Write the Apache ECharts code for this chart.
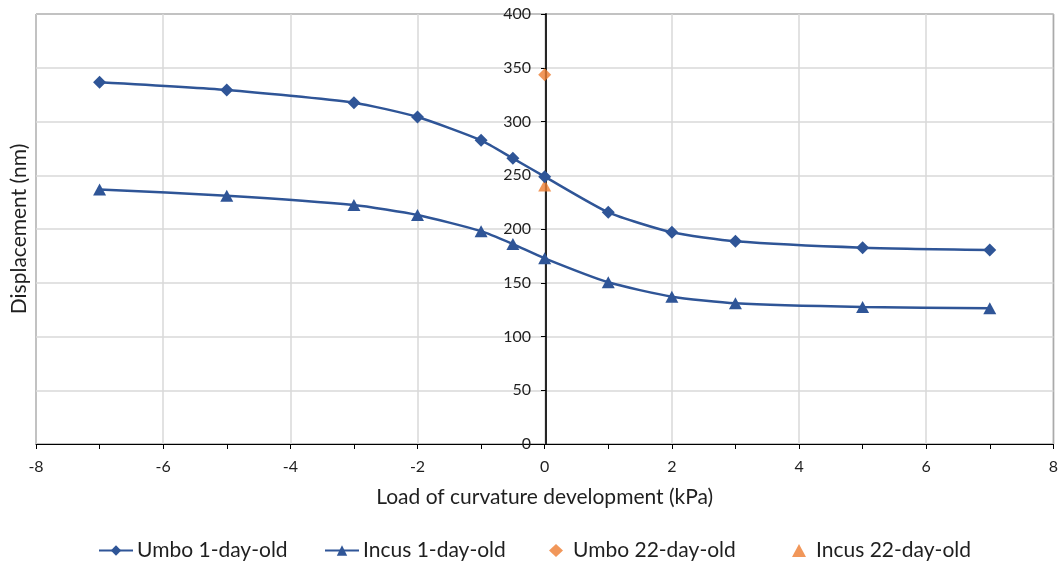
<!DOCTYPE html>
<html>
<head>
<meta charset="utf-8">
<script src="https://cdn.jsdelivr.net/npm/echarts@6/dist/echarts.min.js"></script>
<style>
  html, body { margin: 0; padding: 0; background: #fff; }
  #chart { width: 1061px; height: 567px; }
</style>
</head>
<body>
<div id="chart"></div>
<script>
// Load of curvature development (kPa)
const loads = [-7, -5, -3, -2, -1, -0.5, 0, 1, 2, 3, 5, 7];
// Displacement (nm), 1-day-old ear
const umbo1 = [336.5, 329.3, 317.5, 304.2, 282.5, 265.7, 248.7, 215.5, 196.9, 188.5, 182.6, 180.5];
const incus1 = [236.7, 231.0, 222.3, 213.0, 198.0, 186.0, 172.7, 150.4, 137.0, 130.9, 127.4, 126.2];
// Displacement (nm), 22-day-old ear (unloaded only)
const umbo22Load = [0];
const umbo22 = [343.6];
const incus22Load = [0];
const incus22 = [240.5];

const seriesNames = ['Umbo 1-day-old', 'Incus 1-day-old', 'Umbo 22-day-old', 'Incus 22-day-old'];

const BLUE = '#2F5597';
const ORANGE = '#ED7D31';
const TEXT = '#1f1f1f';
const FONT = 'Lato, "Open Sans", sans-serif';

const GRID = { left: 36, right: 5, top: 14, bottom: 123 };
const plotWidth = 1061 - GRID.left - GRID.right;

const pairs = (xs, ys) => xs.map((x, i) => [x, ys[i]]);

const chart = echarts.init(document.getElementById('chart'));

const legendBase = {
  top: 540,
  padding: 0,
  itemWidth: 34,
  itemHeight: 13,
  itemGap: 4,
  textStyle: { fontFamily: FONT, fontSize: 21, color: TEXT, padding: [0, 0, 0, -1] }
};
const markerLegend = {
  itemWidth: 14,
  textStyle: { fontFamily: FONT, fontSize: 21, color: TEXT, padding: [0, 0, 0, 5] }
};

chart.setOption({
  animation: false,
  backgroundColor: '#fff',
  grid: Object.assign({ show: true, borderColor: '#000', borderWidth: 1 }, GRID),
  xAxis: {
    type: 'value', min: -8, max: 8, interval: 2,
    name: 'Load of curvature development (kPa)',
    nameLocation: 'middle', nameGap: 43,
    nameTextStyle: { fontFamily: FONT, fontSize: 21, color: TEXT },
    axisLine: { onZero: false, lineStyle: { color: '#000', width: 1 } },
    axisTick: { show: true, length: 5, lineStyle: { color: '#000' } },
    minorTick: { show: true, splitNumber: 2, length: 5, lineStyle: { color: '#000' } },
    axisLabel: { fontFamily: FONT, fontSize: 16, color: TEXT, margin: 15 },
    splitLine: { show: true, lineStyle: { color: '#D9D9D9', width: 1.5 } }
  },
  // vertical axis drawn through x = 0, in the middle of the plot
  yAxis: {
    type: 'value', min: 0, max: 400, interval: 50,
    position: 'left',
    offset: -plotWidth / 2,
    axisLine: { onZero: false, lineStyle: { color: '#262626', width: 2 } },
    axisTick: { show: true, length: 5, lineStyle: { color: '#000' } },
    axisLabel: { fontFamily: FONT, fontSize: 16, color: TEXT, margin: 15 },
    splitLine: { show: true, lineStyle: { color: '#D9D9D9', width: 1.5 } }
  },
  graphic: [{
    type: 'text',
    x: 19, y: 229,
    rotation: Math.PI / 2,
    style: {
      text: 'Displacement (nm)',
      font: '21px ' + FONT,
      fill: TEXT,
      align: 'center',
      verticalAlign: 'middle'
    }
  }],
  legend: [
    Object.assign({}, legendBase, { data: [seriesNames[0]], left: 98 }),
    Object.assign({}, legendBase, { data: [seriesNames[1]], left: 324 }),
    Object.assign({}, legendBase, markerLegend, { data: [seriesNames[2]], left: 549 }),
    Object.assign({}, legendBase, markerLegend, { data: [seriesNames[3]], left: 792 })
  ],
  series: [
    {
      name: seriesNames[0], type: 'line', smooth: 0.2,
      data: pairs(loads, umbo1),
      symbol: 'diamond', symbolSize: [13, 13],
      lineStyle: { color: BLUE, width: 2.5 },
      itemStyle: { color: BLUE }
    },
    {
      name: seriesNames[1], type: 'line', smooth: 0.2,
      data: pairs(loads, incus1),
      symbol: 'triangle', symbolSize: [13, 12],
      lineStyle: { color: BLUE, width: 2.5 },
      itemStyle: { color: BLUE }
    },
    {
      name: seriesNames[2], type: 'scatter',
      data: pairs(umbo22Load, umbo22),
      symbol: 'diamond', symbolSize: [13, 13],
      itemStyle: { color: ORANGE }
    },
    {
      name: seriesNames[3], type: 'scatter',
      data: pairs(incus22Load, incus22),
      symbol: 'triangle', symbolSize: [13, 12],
      itemStyle: { color: ORANGE }
    }
  ]
});
</script>
</body>
</html>
